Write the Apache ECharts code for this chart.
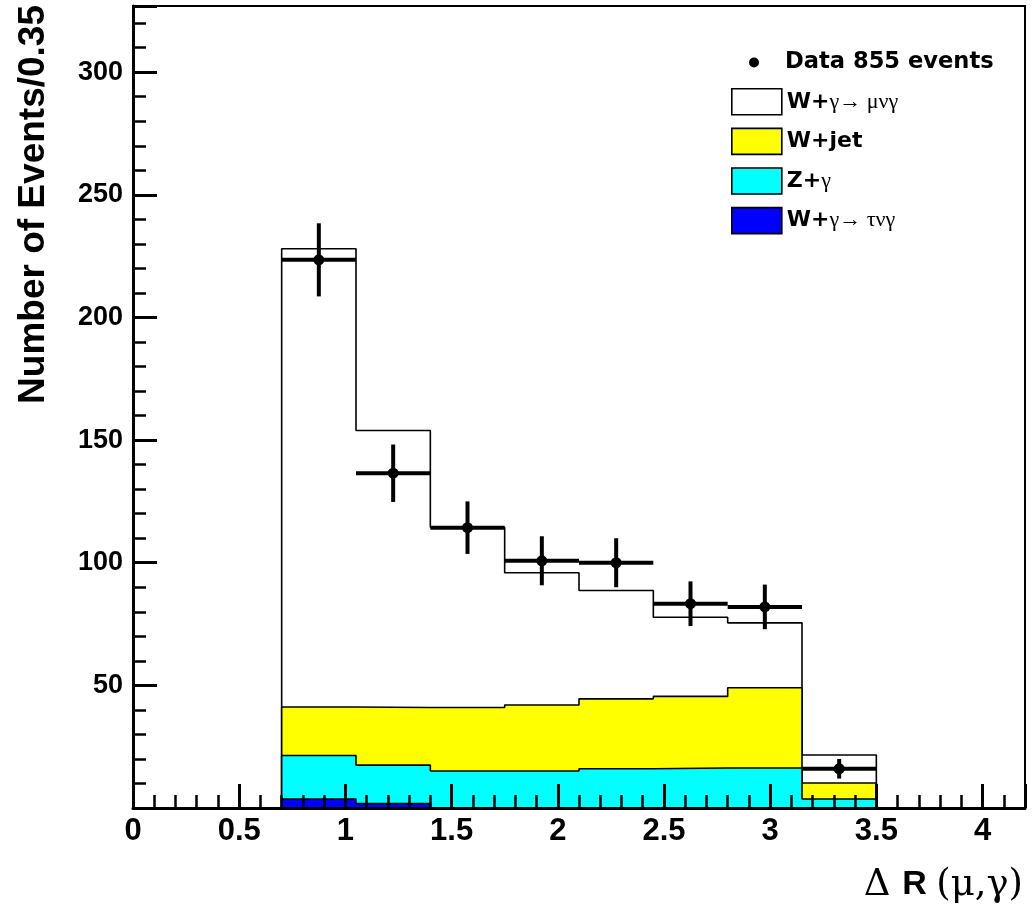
<!DOCTYPE html>
<html>
<head>
<meta charset="utf-8">
<script src="https://cdn.jsdelivr.net/npm/echarts@6/dist/echarts.min.js"></script>
<style>
html,body{margin:0;padding:0;background:#fff;}
#chart{width:1032px;height:917px;}
</style>
</head>
<body>
<div id="chart"></div>
<script>
// ---- data ----
const binEdges = [0.7, 1.05, 1.4, 1.75, 2.1, 2.45, 2.8, 3.15, 3.5];
const wTauNuGamma = [3.7, 1.8, 0, 0, 0, 0, 0, 0];
const zGamma      = [17.7, 15.7, 15.1, 15.1, 16.0, 16.3, 16.3, 3.7];
const wJet        = [19.8, 23.5, 25.9, 26.9, 28.5, 29.2, 32.7, 6.5];
const wMuNuGamma  = [186.8, 112.9, 73.5, 53.9, 44.2, 32.3, 26.5, 11.4];
const dataCounts  = [223.5, 136.5, 114.3, 100.8, 100.0, 83.3, 82.0, 16.0];
const dataErrors  = [14.9, 11.7, 10.7, 10.0, 10.0, 9.1, 9.1, 4.0];

const names = {
  data: 'Data 855 events',
  mu: 'W+γ→ μνγ',
  jet: 'W+jet',
  z: 'Z+γ',
  tau: 'W+γ→ τνγ'
};
const richNames = {};
richNames[names.data] = '{b|Data 855 events}';
richNames[names.mu] = '{b|W+}{s|γ→ μνγ}';
richNames[names.jet] = '{b|W+jet}';
richNames[names.z] = '{b|Z+}{s|γ}';
richNames[names.tau] = '{b|W+}{s|γ→ τνγ}';

// cumulative stacks
function addArr(a, b) { return a.map((v, i) => v + b[i]); }
const cumTau = wTauNuGamma.slice();
const cumZ = addArr(cumTau, zGamma);
const cumJet = addArr(cumZ, wJet);
const cumMu = addArr(cumJet, wMuNuGamma);

function stepPoints(tops) {
  const pts = [[binEdges[0], 0]];
  for (let i = 0; i < tops.length; i++) {
    pts.push([binEdges[i], tops[i]]);
    pts.push([binEdges[i + 1], tops[i]]);
  }
  pts.push([binEdges[binEdges.length - 1], 0]);
  return pts;
}

const centers = dataCounts.map((v, i) => (binEdges[i] + binEdges[i + 1]) / 2);
const errData = dataCounts.map((v, i) => [binEdges[i], binEdges[i + 1], v, dataErrors[i], centers[i]]);
const pointData = dataCounts.map((v, i) => [centers[i], v]);

function histSeries(name, tops, color, z) {
  return {
    name: name,
    type: 'line',
    data: stepPoints(tops),
    symbol: 'none',
    z: z,
    color: color,
    itemStyle: { color: color },
    lineStyle: { color: '#000', width: 1.6 },
    areaStyle: { color: color, opacity: 1 },
    silent: true,
    animation: false
  };
}

const axisCommon = {
  type: 'value',
  z: 10,
  axisLine: { show: true, onZero: false, lineStyle: { color: '#000', width: 3 } },
  axisTick: { show: true, inside: true, length: 24, lineStyle: { color: '#000', width: 3 } },
  minorTick: { show: true, splitNumber: 5, length: 13, lineStyle: { color: '#000', width: 2.5 } },
  splitLine: { show: false },
  minorSplitLine: { show: false }
};

const chart = echarts.init(document.getElementById('chart'), null, { renderer: 'canvas' });
const legendText = {
  color: '#000',
  rich: {
    b: { fontFamily: 'DejaVu Sans', fontWeight: 'bold', fontSize: 22, color: '#000' },
    s: { fontFamily: 'Liberation Serif', fontSize: 22, color: '#000' }
  }
};
const legendText1 = {
  color: '#000',
  rich: {
    b: { fontFamily: 'DejaVu Sans', fontWeight: 'bold', fontSize: 22.6, color: '#000' }
  }
};
chart.setOption({
  animation: false,
  backgroundColor: '#fff',
  grid: { left: 133, right: 7, top: 6, bottom: 109, show: true, borderColor: '#000', borderWidth: 2, backgroundColor: 'transparent' },
  xAxis: Object.assign({}, axisCommon, {
    min: 0, max: 4.2, interval: 0.5,
    axisLabel: { fontSize: 31, fontWeight: 'bold', fontFamily: 'Liberation Sans', color: '#000', margin: 8, showMaxLabel: false }
  }),
  yAxis: Object.assign({}, axisCommon, {
    min: 0, max: 327, interval: 50,
    axisLabel: { fontSize: 27, fontWeight: 'bold', fontFamily: 'Liberation Sans', color: '#000', margin: 10, showMinLabel: false, showMaxLabel: false }
  }),
  legend: [
    {
      data: [{ name: names.data, icon: 'circle', itemStyle: { color: '#000' } }],
      left: 749, top: 51, orient: 'vertical', padding: 0,
      itemWidth: 52, itemHeight: 10, selectedMode: false,
      formatter: n => richNames[n], textStyle: legendText1
    },
    {
      data: [
        { name: names.mu, icon: 'rect', itemStyle: { color: '#fff', borderColor: '#000', borderWidth: 1.6 } },
        { name: names.jet, icon: 'rect', itemStyle: { color: '#ffff00', borderColor: '#000', borderWidth: 1.6 } },
        { name: names.z, icon: 'rect', itemStyle: { color: '#00ffff', borderColor: '#000', borderWidth: 1.6 } },
        { name: names.tau, icon: 'rect', itemStyle: { color: '#0000ff', borderColor: '#000', borderWidth: 1.6 } }
      ],
      left: 731, top: 88, orient: 'vertical', padding: 0,
      itemWidth: 50, itemHeight: 26, itemGap: 12, selectedMode: false,
      formatter: n => richNames[n], textStyle: legendText
    }
  ],
  graphic: [
    {
      type: 'text', x: 34, y: 5, rotation: Math.PI / 2,
      style: { text: 'Number of Events/0.35', font: 'bold 37px "Liberation Sans"', fill: '#000', align: 'right', verticalAlign: 'middle' }
    },
    {
      type: 'text', x: 1023, y: 885,
      style: {
        text: '{s|Δ }{b|R }{s|(μ,γ)}', align: 'right', verticalAlign: 'middle',
        rich: {
          b: { fontFamily: 'Liberation Sans', fontWeight: 'bold', fontSize: 34, fill: '#000' },
          s: { fontFamily: 'DejaVu Serif', fontSize: 37, fill: '#000' }
        }
      }
    }
  ],
  series: [
    histSeries(names.mu, cumMu, '#ffffff', 2),
    histSeries(names.jet, cumJet, '#ffff00', 3),
    histSeries(names.z, cumZ, '#00ffff', 4),
    histSeries(names.tau, cumTau, '#0000ff', 5),
    {
      name: 'dataErr',
      type: 'custom',
      z: 7,
      silent: true,
      data: errData,
      renderItem: function (params, api) {
        const x0 = api.value(0), x1 = api.value(1), y = api.value(2), e = api.value(3), xc = api.value(4);
        const pL = api.coord([x0, y]);
        const pR = api.coord([x1, y]);
        const pT = api.coord([xc, y + e]);
        const pB = api.coord([xc, y - e]);
        const st = { stroke: '#000', lineWidth: 4 };
        return {
          type: 'group',
          children: [
            { type: 'line', shape: { x1: pL[0], y1: pL[1], x2: pR[0], y2: pR[1] }, style: st },
            { type: 'line', shape: { x1: pT[0], y1: pT[1], x2: pB[0], y2: pB[1] }, style: st }
          ]
        };
      }
    },
    {
      name: names.data,
      type: 'scatter',
      z: 8,
      silent: true,
      symbol: 'circle',
      symbolSize: 11,
      itemStyle: { color: '#000', opacity: 1 },
      data: pointData
    }
  ]
});
</script>
</body>
</html>
